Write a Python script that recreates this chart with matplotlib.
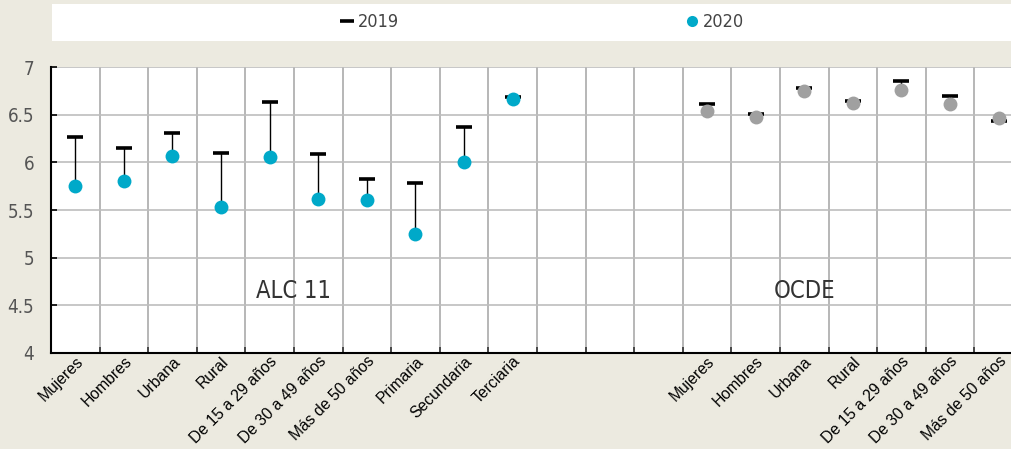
import numpy as np
import matplotlib
matplotlib.use("Agg")
import matplotlib.pyplot as plt
from matplotlib import font_manager
from matplotlib.lines import Line2D
from matplotlib.patches import Rectangle

# categories (blank slots separate the two groups)
alc_cats = ["Mujeres", "Hombres", "Urbana", "Rural", "De 15 a 29 años",
            "De 30 a 49 años", "Más de 50 años", "Primaria", "Secundaria", "Terciaria"]
ocde_cats = ["Mujeres", "Hombres", "Urbana", "Rural", "De 15 a 29 años",
             "De 30 a 49 años", "Más de 50 años"]
n_gap = 3

alc_2019 = [6.27, 6.15, 6.31, 6.10, 6.63, 6.09, 5.83, 5.78, 6.37, 6.69]
alc_2020 = [5.75, 5.80, 6.07, 5.53, 6.06, 5.62, 5.60, 5.25, 6.00, 6.66]
ocde_2019 = [6.61, 6.51, 6.78, 6.64, 6.85, 6.70, 6.43]
ocde_2020 = [6.54, 6.48, 6.75, 6.62, 6.76, 6.61, 6.47]

bg = "#ECEAE0"
cyan = "#00A9C9"
grey = "#A0A0A0"


def weight_num(w):
    if isinstance(w, str):
        return font_manager.weight_dict.get(w, 400)
    return w


# pick a light narrow face among the installed ones
narrow_file = None
entries = [f for f in font_manager.fontManager.ttflist
           if ("Narrow" in f.name or "Condensed" in f.name or "Condensed" in f.fname)
           and f.style == "normal"]
if entries:
    entries.sort(key=lambda f: abs(weight_num(f.weight) - 350))
    narrow_file = entries[0].fname


def nfp(size):
    if narrow_file:
        return font_manager.FontProperties(fname=narrow_file, size=size)
    return font_manager.FontProperties(family="DejaVu Sans", size=size)


fig = plt.figure(figsize=(10.12, 4.49), dpi=100, facecolor=bg)

# white strip holding the legend
fig.patches.append(Rectangle((52 / 1012, 1 - 41 / 449), 960 / 1012, 37 / 449,
                             transform=fig.transFigure, facecolor="white",
                             edgecolor="none", zorder=0))

ax = fig.add_axes([51 / 1012, 96 / 449, 972 / 1012, 286 / 449])
ax.set_facecolor("white")

x_alc = np.arange(len(alc_cats))
x_ocde = np.arange(len(ocde_cats)) + len(alc_cats) + n_gap
n_slots = len(alc_cats) + n_gap + len(ocde_cats)

# connecting lines
ax.vlines(x_alc, alc_2020, alc_2019, color="black", lw=1.0, zorder=3)
ax.vlines(x_ocde, ocde_2020, ocde_2019, color="black", lw=1.0, zorder=3)

# 2019 caps
ax.plot(x_alc, alc_2019, ls="none", marker="_", ms=11, mew=2.6, color="black", zorder=4)
ax.plot(x_ocde, ocde_2019, ls="none", marker="_", ms=11, mew=2.6, color="black", zorder=4)

# 2020 dots
ax.plot(x_alc, alc_2020, ls="none", marker="o", ms=10, color=cyan, mec="none", zorder=5)
ax.plot(x_ocde, ocde_2020, ls="none", marker="o", ms=10, color=grey, mec="none", zorder=5)

ax.set_xlim(-0.5, n_slots - 0.5)
ax.set_ylim(4, 7)
ax.set_yticks(np.arange(4, 7.01, 0.5))
ax.set_yticklabels(["4", "4.5", "5", "5.5", "6", "6.5", "7"])

ax.set_xticks(list(x_alc) + list(x_ocde))
ax.set_xticklabels(alc_cats + ocde_cats, rotation=45, ha="right",
                   rotation_mode="anchor", fontsize=11.3, family="Liberation Sans")
ax.set_xticks(np.arange(-0.5, n_slots, 1.0), minor=True)
ax.tick_params(axis="x", which="major", length=0, pad=0.5)
ax.tick_params(axis="x", which="minor", direction="in", length=4, width=1.2, color="#333333")
ax.tick_params(axis="y", direction="in", length=4, width=1.2, pad=12,
               labelcolor="#555555")
for lab in ax.get_yticklabels():
    lab.set_fontproperties(nfp(13.5))

ax.grid(True, axis="y", color="#BEBEBE", lw=1.2)
ax.grid(True, axis="x", which="minor", color="#AAAAAA", lw=1.2)
ax.set_axisbelow(True)

for s in ["top", "right"]:
    ax.spines[s].set_visible(False)
for s in ["left", "bottom"]:
    ax.spines[s].set_color("black")
    ax.spines[s].set_linewidth(1.5)

ax.text(4.5, 4.65, "ALC 11", ha="center", va="center", color="#333333",
        fontproperties=nfp(17))
ax.text(15, 4.65, "OCDE", ha="center", va="center", color="#333333",
        fontproperties=nfp(17))

handles = [Line2D([], [], ls="none", marker="_", ms=10, mew=2.6, color="black"),
           Line2D([], [], ls="none", marker="o", ms=8, color=cyan, mec="none")]
leg = fig.legend(handles, ["2019", "2020"], ncol=2, loc="center",
                 bbox_to_anchor=(542 / 1012, 1 - 22 / 449), frameon=False,
                 handlelength=0.8, handletextpad=0.2, columnspacing=15.8,
                 prop=nfp(13))
for t in leg.get_texts():
    t.set_color("#444444")

fig.savefig("out.png", dpi=100, facecolor=bg)
